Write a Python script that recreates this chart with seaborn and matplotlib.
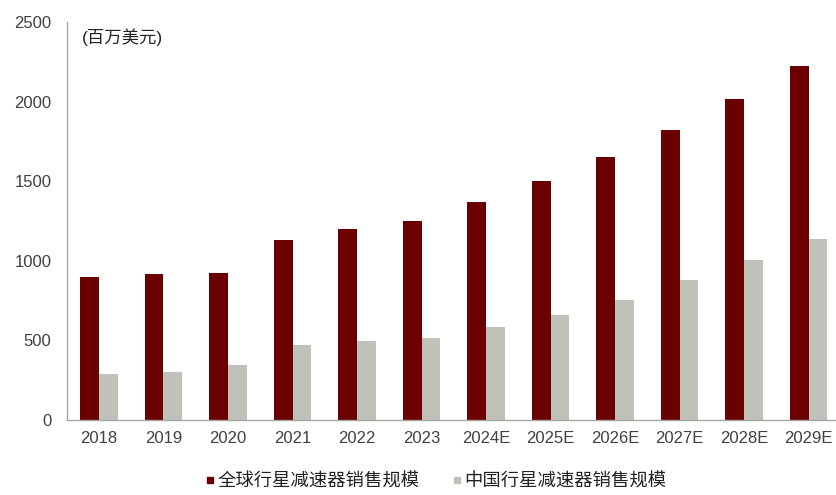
import matplotlib
matplotlib.use("Agg")
import matplotlib.pyplot as plt
from matplotlib.ticker import FixedLocator
import seaborn as sns
import pandas as pd
import numpy as np

years = ["2018", "2019", "2020", "2021", "2022", "2023",
         "2024E", "2025E", "2026E", "2027E", "2028E", "2029E"]
global_sales = [900, 920, 922, 1130, 1200, 1250, 1370, 1500, 1650, 1822, 2016, 2224]
china_sales = [292, 303, 345, 470, 496, 515, 586, 660, 754, 880, 1005, 1137]
series_names = ["全球行星减速器销售规模", "中国行星减速器销售规模"]
colors = ["#6B0000", "#C0C1B9"]

df = pd.DataFrame({
    "year": years * 2,
    "value": global_sales + china_sales,
    "series": [series_names[0]] * len(years) + [series_names[1]] * len(years),
})

sns.set_theme(style="white")
plt.rcParams["font.family"] = ["Liberation Sans", "Noto Sans CJK SC", "DejaVu Sans"]

fig = plt.figure(figsize=(8.37, 4.95), dpi=100)
ax = fig.add_axes([0.0797, 0.1515, 0.925, 0.804])

sns.barplot(data=df, x="year", y="value", hue="series", palette=colors,
            hue_order=series_names, order=years, width=0.58, ax=ax,
            saturation=1, legend=False, edgecolor="none")

ax.set_xlim(-0.5, len(years) - 0.5)
ax.set_ylim(0, 2500)
ax.set_yticks([0, 500, 1000, 1500, 2000, 2500])
ax.set_xlabel("")
ax.set_ylabel("")

for side in ["top", "right"]:
    ax.spines[side].set_visible(False)
for side in ["left", "bottom"]:
    ax.spines[side].set_color("#A6A6A6")
    ax.spines[side].set_linewidth(1.0)

ax.tick_params(axis="y", length=0, pad=11, labelsize=12, labelcolor="#404040")
ax.tick_params(axis="x", which="major", length=0, pad=8, labelsize=12, labelcolor="#404040")
ax.xaxis.set_minor_locator(FixedLocator(np.arange(-0.5, len(years), 1.0)))
ax.tick_params(axis="x", which="minor", length=4, color="#A6A6A6", width=1.0)

ax.text(0.02, 0.985, "(百万美元)", transform=ax.transAxes, fontsize=12.5,
        color="#222222", ha="left", va="top")

handles = [plt.Line2D([], [], marker="s", linestyle="none", markersize=5,
                      markerfacecolor=c, markeredgecolor=c) for c in colors]
fig.legend(handles, series_names, loc="lower center", bbox_to_anchor=(0.52, -0.024),
           ncol=2, frameon=False, fontsize=13.2, handletextpad=0.05,
           columnspacing=1.7, handlelength=0.7, labelcolor="#222222")

fig.savefig("out.png", dpi=100)
